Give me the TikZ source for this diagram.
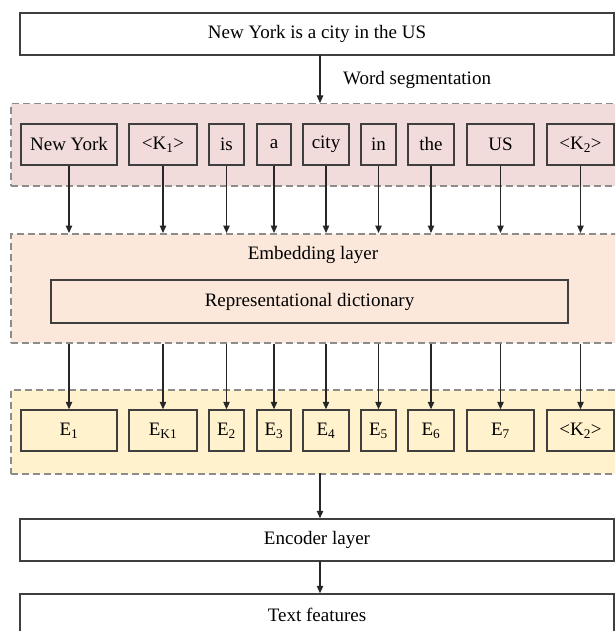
\documentclass[tikz,border=0pt]{standalone}
\usepackage{fontspec}
\setmainfont{Liberation Serif}
\usetikzlibrary{arrows.meta}
\definecolor{pinkfill}{HTML}{F2DCDB}
\definecolor{embfill}{HTML}{FCE8DA}
\definecolor{yelfill}{HTML}{FFF2CC}
\definecolor{dashgray}{HTML}{8C8C8C}
\definecolor{boxline}{HTML}{3F3F3F}
\begin{document}
\begin{tikzpicture}[x=1pt,y=-1pt,
  box/.style={draw=boxline, line width=1.5pt, inner sep=0pt, font=\fontsize{19}{21}\selectfont},
  wordbox/.style={box, fill=pinkfill, minimum height=41pt},
  ebox/.style={box, fill=yelfill, minimum height=41pt},
  widebox/.style={box, fill=white, minimum width=594pt, minimum height=42pt},
  group/.style={draw=dashgray, dash pattern=on 7pt off 4pt, line width=1.5pt, inner sep=0pt, anchor=north west},
  arr/.style={-{Triangle[width=6.5pt,length=7.5pt]}, line width=1.2pt, black!85},
  lbl/.style={font=\fontsize{19}{21}\selectfont, inner sep=0pt}
]
\clip (0,0) rectangle (615,631);
\fill[white] (0,0) rectangle (615,631);

% groups
\node[group, fill=pinkfill, minimum width=612pt, minimum height=82pt] (seg) at (10,103) {};
\node[group, fill=embfill, minimum width=612pt, minimum height=109pt] (emb) at (10,233) {};
\node[group, fill=yelfill, minimum width=612pt, minimum height=84pt] (yel) at (10,389) {};

% top sentence
\node[widebox] (sent) at (317,34) {New York is a city in the US};
\coordinate (tarr) at (320,55);
\draw[arr] (tarr) -- (tarr |- seg.north);
\node[lbl, anchor=west] (ws) at (343,80) {Word segmentation};

% words
\node[wordbox, minimum width=96pt] (w1) at (69,144.5) {New York};
\node[wordbox, minimum width=68pt] (w2) at (163,144.5) {<K\textsubscript{1}>};
\node[wordbox, minimum width=35pt] (w3) at (226.5,144.5) {is};
\node[wordbox, minimum width=34pt] (w4) at (274,144.5) {a};
\node[wordbox, minimum width=46pt] (w5) at (326,144.5) {city};
\node[wordbox, minimum width=35pt] (w6) at (378.5,144.5) {in};
\node[wordbox, minimum width=46pt] (w7) at (431,144.5) {the};
\node[wordbox, minimum width=67pt] (w8) at (500.5,144.5) {US};
\node[wordbox, minimum width=67pt] (w9) at (580.5,144.5) {<K\textsubscript{2}>};

% embedding layer
\node[lbl] (embl) at (313,255) {Embedding layer};
\node[box, fill=embfill, minimum width=517pt, minimum height=43pt] (dict) at (309.5,301.5) {Representational dictionary};

% embeddings
\node[ebox, minimum width=96pt] (e1) at (69,430.5) {E\textsubscript{1}};
\node[ebox, minimum width=68pt] (e2) at (163,430.5) {E\textsubscript{K1}};
\node[ebox, minimum width=35pt] (e3) at (226.5,430.5) {E\textsubscript{2}};
\node[ebox, minimum width=34pt] (e4) at (274,430.5) {E\textsubscript{3}};
\node[ebox, minimum width=46pt] (e5) at (326,430.5) {E\textsubscript{4}};
\node[ebox, minimum width=35pt] (e6) at (378.5,430.5) {E\textsubscript{5}};
\node[ebox, minimum width=46pt] (e7) at (431,430.5) {E\textsubscript{6}};
\node[ebox, minimum width=67pt] (e8) at (500.5,430.5) {E\textsubscript{7}};
\node[ebox, minimum width=67pt] (e9) at (580.5,430.5) {<K\textsubscript{2}>};

\foreach \i in {1,...,9}{
  \draw[arr] (w\i.south) -- (w\i.south |- emb.north);
  \draw[arr] (e\i.north |- emb.south) -- (e\i.north);
}

% encoder and features
\node[widebox] (enc) at (317,540) {Encoder layer};
\node[widebox] (feat) at (317,615) {Text features};
\coordinate (barr) at (320,473);
\draw[arr] (barr) -- (barr |- enc.north);
\coordinate (carr) at (320,561);
\draw[arr] (carr) -- (carr |- feat.north);
\end{tikzpicture}
\end{document}
